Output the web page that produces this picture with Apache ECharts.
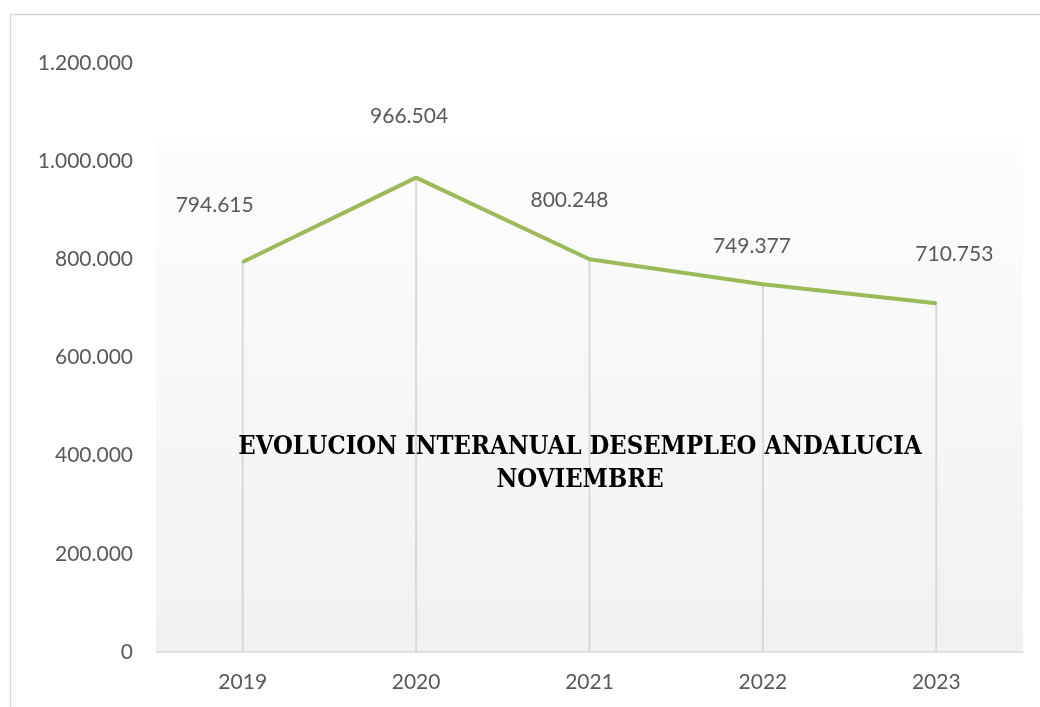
<!DOCTYPE html>
<html><head><meta charset="utf-8">
<script src="https://cdn.jsdelivr.net/npm/echarts@6/dist/echarts.min.js"></script>
<style>html,body{margin:0;padding:0;background:#fff}#c{width:1040px;height:707px}</style>
</head><body><div id="c"></div>
<script>
const years = ['2019','2020','2021','2022','2023'];
const paro = [794615, 966504, 800248, 749377, 710753];
const labelOffsets = [[-28,0],[-7,0],[-20,0],[-11,0],[18,0]];
const labelDist = [45, 50, 47, 26, 37];
const yTicks = [0, 200000, 400000, 600000, 800000, 1000000, 1200000];

const fmt = v => String(Math.round(v)).replace(/\B(?=(\d{3})+(?!\d))/g, '.');
const chart = echarts.init(document.getElementById('c'));
const fontF = 'Lato';
chart.setOption({
  animation: false,
  backgroundColor: '#fff',
  graphic: [{type:'rect', left:8, top:12, shape:{width:1060, height:720}, style:{fill:'none', stroke:'#d9d9d9', lineWidth:1.5}, z:-1}],
  title: {
    text: 'EVOLUCION INTERANUAL DESEMPLEO ANDALUCIA\nNOVIEMBRE',
    left: 575, top: 426, textAlign: 'center',
    textStyle: {fontFamily: 'DejaVu Serif Condensed', fontWeight: 'bold', fontSize: 25.4, color: '#000', lineHeight: 33}
  },
  grid: {
    left: 156, right: 17, top: 63, bottom: 55, show: true, borderWidth: 0,
    backgroundColor: new echarts.graphic.LinearGradient(0,0,0,1,[{offset:0,color:'#ffffff'},{offset:0.125,color:'#ffffff'},{offset:0.13,color:'#fdfdfd'},{offset:1,color:'#f1f1f1'}])
  },
  xAxis: {
    type: 'category', data: years, boundaryGap: true,
    axisLine: {lineStyle: {color: '#d9d9d9', width: 1.5}},
    axisTick: {show: false},
    axisLabel: {color: '#595959', fontSize: 21, fontFamily: fontF, margin: 20}
  },
  yAxis: {
    type: 'value', min: 0, max: 1200000, interval: 200000,
    axisLine: {show: false}, axisTick: {show: false},
    splitLine: {show: false},
    axisLabel: {color: '#595959', fontSize: 21, fontFamily: fontF, margin: 23, formatter: fmt}
  },
  series: [
    {type: 'bar', data: paro, barWidth: 2, itemStyle: {color: '#d9d9d9'}, silent: true, z: 1},
    {type: 'line', data: paro.map((v,i)=>({value:v, label:{offset:labelOffsets[i], distance:labelDist[i]}})),
     symbol: 'circle', symbolSize: 2, showSymbol: true, itemStyle: {color: '#9bbb59'},
     lineStyle: {color: '#9bbb59', width: 4}, z: 3,
     label: {show: true, position: 'top', color: '#595959', fontSize: 21, fontFamily: fontF, formatter: p => fmt(p.value)}}
  ]
});
</script></body></html>
